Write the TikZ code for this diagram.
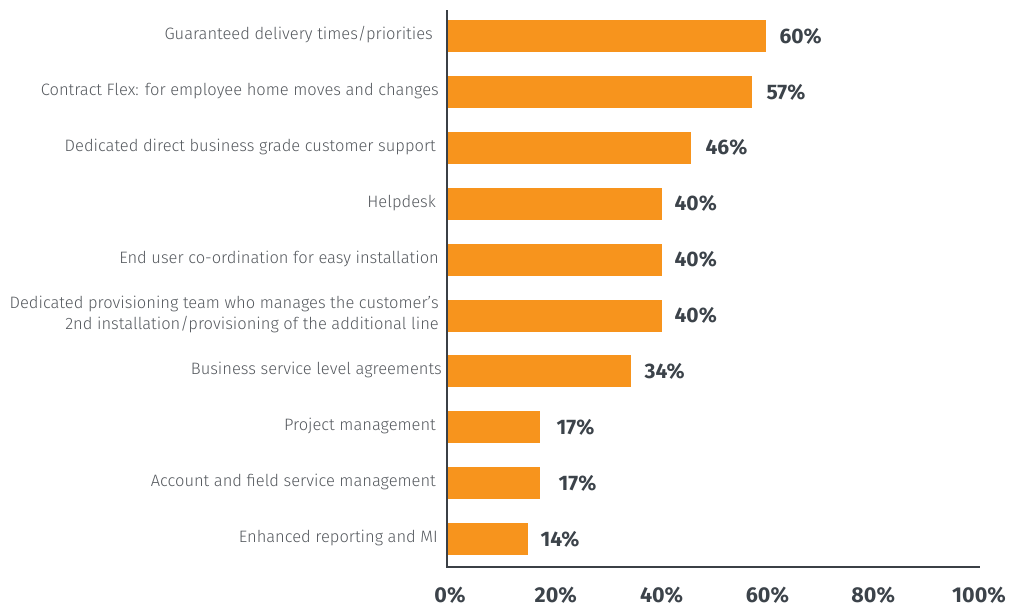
\documentclass[tikz,border=0pt]{standalone}
\usepackage{fontspec}
\setmainfont{Fira Sans}
\newfontfamily\catfont{Fira Sans Light}
\definecolor{barorange}{HTML}{F7941D}
\definecolor{valgray}{HTML}{3C434A}
\definecolor{catgray}{HTML}{55595E}
\definecolor{axisgray}{HTML}{3B4046}
\begin{document}
\begin{tikzpicture}[x=1pt,y=-1pt,
  axisline/.style={draw=axisgray,line width=1.2pt},
  barbox/.style={fill=barorange,draw=none,inner sep=0pt,minimum height=32pt,anchor=west},
  vallabel/.style={text=valgray,font=\fontsize{21}{25}\selectfont\bfseries,anchor=west,inner sep=0pt},
  catlabel/.style={text=catgray,font=\catfont\fontsize{16.5}{21}\selectfont,anchor=east,align=right,inner sep=0pt},
  ticklabel/.style={text=valgray,font=\fontsize{21.5}{25}\selectfont\bfseries,inner sep=0pt}]
\useasboundingbox (0,0) rectangle (1012,608);
\coordinate (top) at (447,10);
\coordinate (origin) at (447,567);
\coordinate (xend) at (980,567);
\draw[axisline] (top) -- (origin) -- (xend);
\foreach \i/\v/\xe/\gap/\xl/\lab in {0/60/766/13/433/{Guaranteed delivery times/priorities},
  1/57/752/14/439/{Contract Flex: for employee home moves and changes},
  2/46/691/14/436/{Dedicated direct business grade customer support},
  3/40/662/12/436/{Helpdesk},
  4/40/662/12/439/{End user co-ordination for easy installation},
  5/40/662/12/439/{Dedicated provisioning team who manages the customer’s\\2nd installation/provisioning of the additional line},
  6/34/631/13/442/{Business service level agreements},
  7/17/540/16/436/{Project management},
  8/17/540/18/436/{Account and field service management},
  9/14/528/12/438/{Enhanced reporting and MI}}{
  \pgfmathsetmacro{\yc}{36+\i*55.9}
  \pgfmathsetmacro{\w}{\xe-447.6}
  \node[barbox,minimum width=\w pt] (bar\i) at (447.6,\yc) {};
  \node[vallabel] (val\i) at ([xshift=\gap pt]bar\i.east) {\v\%};
  \node[catlabel] (cat\i) at (\xl,\yc-1) {\lab};
}
\foreach \k in {0,20,40,60,80,100}{
  \pgfmathsetmacro{\xc}{450+\k*5.29}
  \node[ticklabel] (tick\k) at (\xc,595) {\k\%};
}
\end{tikzpicture}
\end{document}
